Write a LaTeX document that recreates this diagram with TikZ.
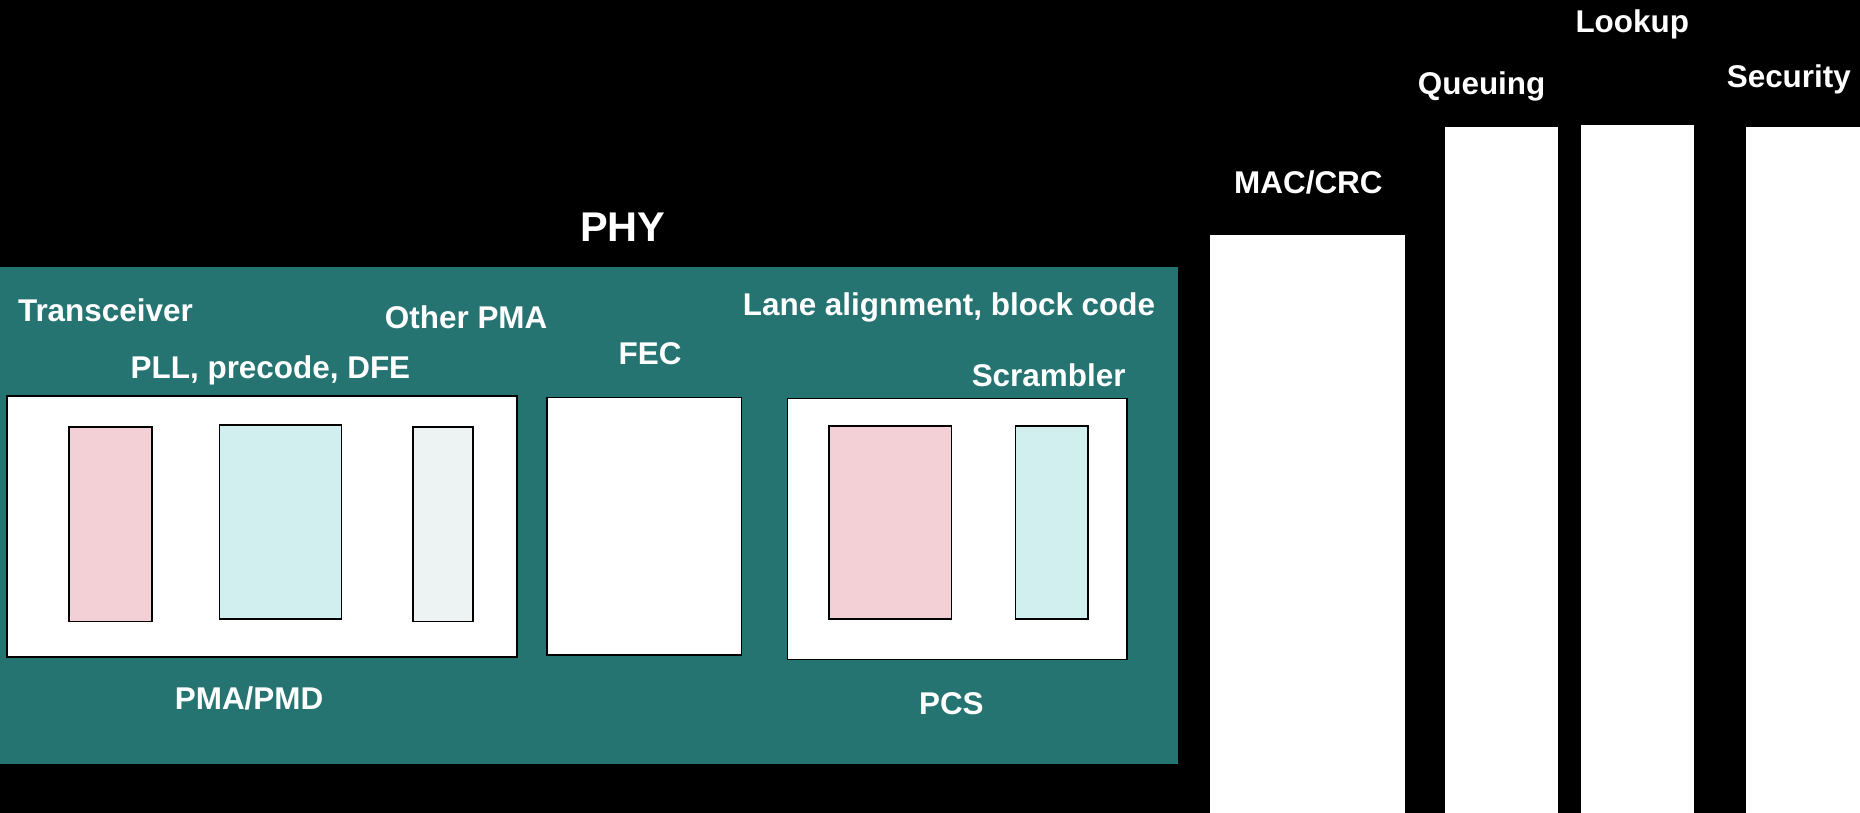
\documentclass[tikz,border=0pt]{standalone}
\usepackage{fontspec}
\setmainfont{Liberation Sans}
\definecolor{tealbg}{HTML}{267472}
\definecolor{pinkf}{HTML}{F2D0D5}
\definecolor{cyanf}{HTML}{D1EFEE}
\definecolor{greyf}{HTML}{EDF3F2}
\begin{document}
\begin{tikzpicture}[x=1pt,y=-1pt,
  lbl/.style={text=white,font=\fontsize{26.5}{30}\selectfont\bfseries,inner sep=0pt,anchor=base},
  big/.style={text=white,font=\fontsize{35}{40}\selectfont\bfseries,inner sep=0pt,anchor=base},
  blk/.style={draw=black,line width=1.4pt,inner sep=0pt,outer sep=0pt,anchor=north west},
  col/.style={fill=white,inner sep=0pt,outer sep=0pt,anchor=north west}]
\fill[black] (0,0) rectangle (1568,685);
\useasboundingbox (0,0) rectangle (1568,685);
% PHY region
\node[fill=tealbg,inner sep=0pt,outer sep=0pt,anchor=north west,minimum width=993pt,minimum height=419pt] (phy) at (0,225) {};
\node[big] (phyl) at (525,204) {PHY};
% PMA/PMD
\node[blk,fill=white,minimum width=430pt,minimum height=220pt] (pma) at (6,334) {};
\node[blk,fill=pinkf,minimum width=70pt,minimum height=164pt] (trx) at (58,360) {};
\node[blk,fill=cyanf,minimum width=103pt,minimum height=164pt] (pll) at (185,358) {};
\node[blk,fill=greyf,minimum width=51pt,minimum height=164pt] (opma) at (348,360) {};
\node[lbl,anchor=base west] (trxl) at (15,271) {Transceiver};
\node[lbl] (opmal) at (393,277) {Other PMA};
\node[lbl] (plll) at (228,319) {PLL, precode, DFE};
\node[lbl] (pmal) at (210,598) {PMA/PMD};
% FEC
\node[blk,fill=white,minimum width=164pt,minimum height=217pt] (fec) at (461,335) {};
\node[lbl] (fecl) at (548,307) {FEC};
% PCS
\node[blk,fill=white,minimum width=286pt,minimum height=220pt] (pcs) at (664,336) {};
\node[blk,fill=pinkf,minimum width=103pt,minimum height=163pt] (lane) at (699,359) {};
\node[blk,fill=cyanf,minimum width=61pt,minimum height=163pt] (scr) at (856,359) {};
\node[lbl] (lanel) at (800,266) {Lane alignment, block code};
\node[lbl] (scrl) at (884,326) {Scrambler};
\node[lbl] (pcsl) at (802,602) {PCS};
% Upper layers
\node[col,minimum width=164pt,minimum height=487pt] (mac) at (1020,198) {};
\node[lbl] (macl) at (1103,163) {MAC/CRC};
\node[col,minimum width=95pt,minimum height=578pt] (que) at (1218,107) {};
\node[lbl] (quel) at (1249,80) {Queuing};
\node[col,minimum width=95pt,minimum height=580pt] (look) at (1333,105) {};
\node[lbl] (lookl) at (1376,27) {Lookup};
\node[col,minimum width=96pt,minimum height=578pt] (sec) at (1472,107) {};
\node[lbl] (secl) at (1508,74) {Security};
\end{tikzpicture}
\end{document}
